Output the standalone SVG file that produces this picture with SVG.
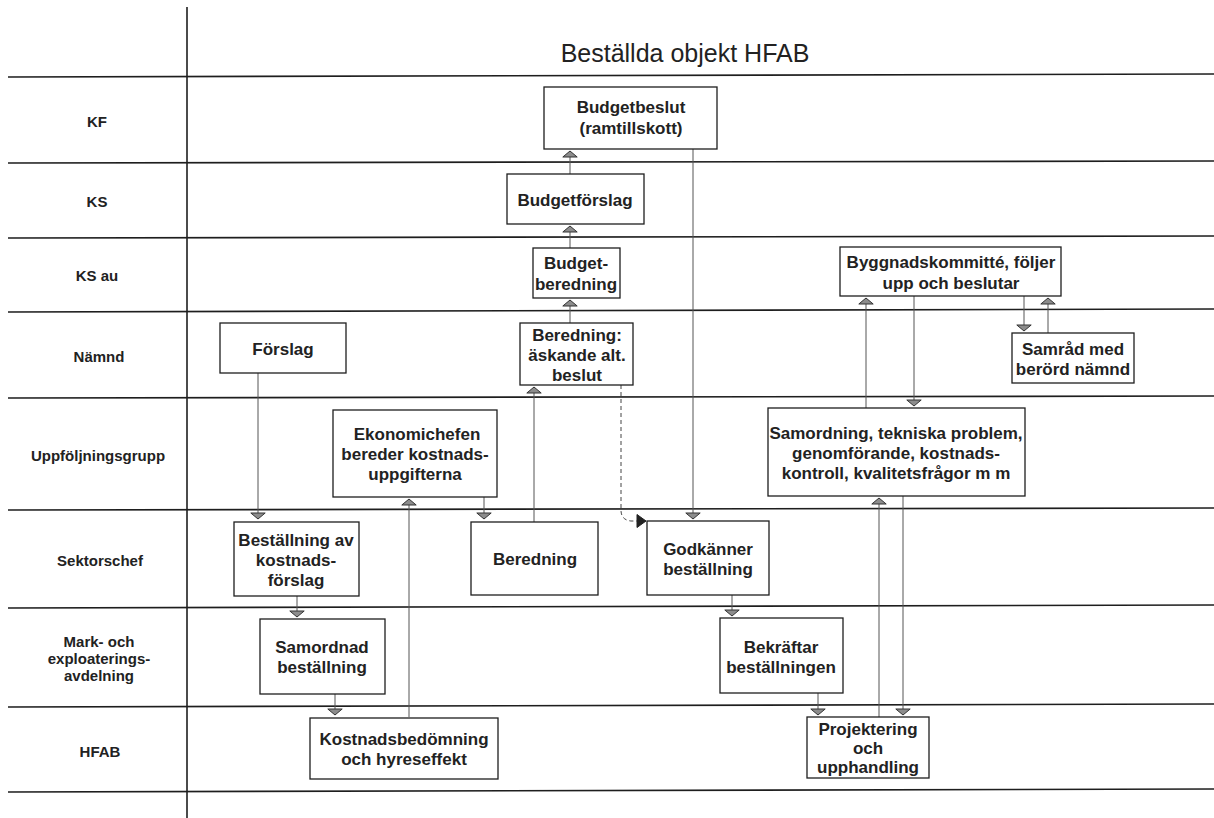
<svg xmlns="http://www.w3.org/2000/svg" width="1214" height="818" viewBox="0 0 1214 818">
<style>
.bg{fill:#ffffff}
.lane{stroke:#1e1e1e;stroke-width:1.6;fill:none}
.box{fill:#ffffff;stroke:#1e1e1e;stroke-width:1.3}
.t{font-family:"Liberation Sans",Arial,sans-serif;font-weight:bold;font-size:17px;fill:#222;text-anchor:middle}
.lbl{font-family:"Liberation Sans",Arial,sans-serif;font-weight:bold;font-size:15px;fill:#222;text-anchor:middle}
.title{font-family:"Liberation Sans",Arial,sans-serif;font-size:25px;fill:#222;text-anchor:middle}
.c{stroke:#555;stroke-width:1;fill:none;marker-end:url(#ah)}
.d{stroke:#444;stroke-width:1;fill:none;stroke-dasharray:4 3;marker-end:url(#ahb)}
</style>
<defs>
<marker id="ah" markerUnits="userSpaceOnUse" markerWidth="8" markerHeight="16" viewBox="0 0 8 16" refX="7" refY="8" orient="auto">
<path d="M1,0.8 L7,8 L1,15.2 Z" fill="#8c8c8c" stroke="#333" stroke-width="1"/>
</marker>
<marker id="ahb" markerUnits="userSpaceOnUse" markerWidth="11" markerHeight="15" viewBox="0 0 11 15" refX="10" refY="7.5" orient="auto">
<path d="M1,1 L10,7.5 L1,14 Z" fill="#222" stroke="#222" stroke-width="1"/>
</marker>
</defs>
<rect class="bg" x="0" y="0" width="1214" height="818"/>

<g id="lanes">
<line class="lane" x1="187" y1="7" x2="187" y2="818"/>
<line class="lane" x1="8" y1="77" x2="1214" y2="74"/>
<line class="lane" x1="8" y1="163" x2="1214" y2="161"/>
<line class="lane" x1="8" y1="238" x2="1214" y2="236"/>
<line class="lane" x1="8" y1="312" x2="1214" y2="309"/>
<line class="lane" x1="8" y1="398" x2="1214" y2="396"/>
<line class="lane" x1="8" y1="510" x2="1214" y2="508"/>
<line class="lane" x1="8" y1="608" x2="1214" y2="605"/>
<line class="lane" x1="8" y1="707" x2="1214" y2="704"/>
<line class="lane" x1="8" y1="792" x2="1214" y2="789"/>
</g>

<text class="title" x="685" y="62">Beställda objekt HFAB</text>

<g id="labels">
<text class="lbl" x="97" y="127">KF</text>
<text class="lbl" x="97" y="207">KS</text>
<text class="lbl" x="97" y="281">KS au</text>
<text class="lbl" x="99" y="362">Nämnd</text>
<text class="lbl" x="98" y="461">Uppföljningsgrupp</text>
<text class="lbl" x="100" y="566">Sektorschef</text>
<text class="lbl" x="99" y="647">Mark- och</text>
<text class="lbl" x="99" y="664">exploaterings-</text>
<text class="lbl" x="99" y="681">avdelning</text>
<text class="lbl" x="100" y="757">HFAB</text>
</g>

<g id="connectors">
<line class="c" x1="570" y1="174" x2="570" y2="151"/>
<line class="c" x1="570" y1="248" x2="570" y2="226"/>
<line class="c" x1="570" y1="323" x2="570" y2="300"/>
<line class="c" x1="693" y1="149" x2="693" y2="519"/>
<line class="c" x1="258" y1="373" x2="258" y2="519"/>
<line class="c" x1="484" y1="497" x2="484" y2="519"/>
<line class="c" x1="534" y1="522" x2="534" y2="387"/>
<path class="d" d="M621,385 L621,510 Q621,520 631,521 L646,521"/>
<line class="c" x1="297" y1="596" x2="297" y2="617"/>
<line class="c" x1="335" y1="694" x2="335" y2="715"/>
<line class="c" x1="409" y1="717" x2="409" y2="499"/>
<line class="c" x1="732" y1="595" x2="732" y2="616"/>
<line class="c" x1="818" y1="693" x2="818" y2="715"/>
<line class="c" x1="879" y1="717" x2="879" y2="498"/>
<line class="c" x1="903" y1="496" x2="903" y2="715"/>
<line class="c" x1="866" y1="408" x2="866" y2="298"/>
<line class="c" x1="914" y1="296" x2="914" y2="406"/>
<line class="c" x1="1024" y1="296" x2="1024" y2="331"/>
<line class="c" x1="1048" y1="333" x2="1048" y2="298"/>
</g>

<g id="n-budgetbeslut">
<rect class="box" x="544" y="87" width="173" height="62"/>
<text class="t" x="631" y="113">Budgetbeslut</text>
<text class="t" x="631" y="134">(ramtillskott)</text>
</g>
<g id="n-budgetforslag">
<rect class="box" x="507" y="174" width="137" height="50"/>
<text class="t" x="575" y="206">Budgetförslag</text>
</g>
<g id="n-budgetberedning">
<rect class="box" x="533" y="248" width="87" height="50"/>
<text class="t" x="576" y="269">Budget-</text>
<text class="t" x="576" y="290">beredning</text>
</g>
<g id="n-byggnadskommitte">
<rect class="box" x="840" y="247" width="221" height="49"/>
<text class="t" x="951" y="268">Byggnadskommitté, följer</text>
<text class="t" x="951" y="289">upp och beslutar</text>
</g>
<g id="n-forslag">
<rect class="box" x="220" y="323" width="126" height="50"/>
<text class="t" x="283" y="355">Förslag</text>
</g>
<g id="n-beredning-askande">
<rect class="box" x="520" y="323" width="113" height="62"/>
<text class="t" x="577" y="341">Beredning:</text>
<text class="t" x="577" y="361">äskande alt.</text>
<text class="t" x="577" y="381">beslut</text>
</g>
<g id="n-samrad">
<rect class="box" x="1012" y="333" width="122" height="50"/>
<text class="t" x="1073" y="355">Samråd med</text>
<text class="t" x="1073" y="375">berörd nämnd</text>
</g>
<g id="n-ekonomichefen">
<rect class="box" x="333" y="410" width="164" height="87"/>
<text class="t" x="417" y="440">Ekonomichefen</text>
<text class="t" x="415" y="460">bereder kostnads-</text>
<text class="t" x="415" y="480">uppgifterna</text>
</g>
<g id="n-samordning">
<rect class="box" x="768" y="408" width="257" height="88"/>
<text class="t" x="896" y="439">Samordning, tekniska problem,</text>
<text class="t" x="896" y="459">genomförande, kostnads-</text>
<text class="t" x="896" y="479">kontroll, kvalitetsfrågor m m</text>
</g>
<g id="n-bestallning-av">
<rect class="box" x="234" y="522" width="125" height="74"/>
<text class="t" x="296" y="546">Beställning av</text>
<text class="t" x="296" y="566">kostnads-</text>
<text class="t" x="296" y="586">förslag</text>
</g>
<g id="n-beredning">
<rect class="box" x="471" y="522" width="127" height="73"/>
<text class="t" x="535" y="565">Beredning</text>
</g>
<g id="n-godkanner">
<rect class="box" x="647" y="521" width="122" height="74"/>
<text class="t" x="708" y="555">Godkänner</text>
<text class="t" x="708" y="575">beställning</text>
</g>
<g id="n-samordnad">
<rect class="box" x="260" y="619" width="125" height="75"/>
<text class="t" x="322" y="653">Samordnad</text>
<text class="t" x="322" y="673">beställning</text>
</g>
<g id="n-bekraftar">
<rect class="box" x="720" y="618" width="123" height="75"/>
<text class="t" x="781" y="653">Bekräftar</text>
<text class="t" x="781" y="673">beställningen</text>
</g>
<g id="n-kostnadsbedomning">
<rect class="box" x="310" y="718" width="188" height="61"/>
<text class="t" x="404" y="745">Kostnadsbedömning</text>
<text class="t" x="404" y="765">och hyreseffekt</text>
</g>
<g id="n-projektering">
<rect class="box" x="807" y="717" width="122" height="61"/>
<text class="t" x="868" y="735">Projektering</text>
<text class="t" x="868" y="754">och</text>
<text class="t" x="868" y="773">upphandling</text>
</g>
</svg>
